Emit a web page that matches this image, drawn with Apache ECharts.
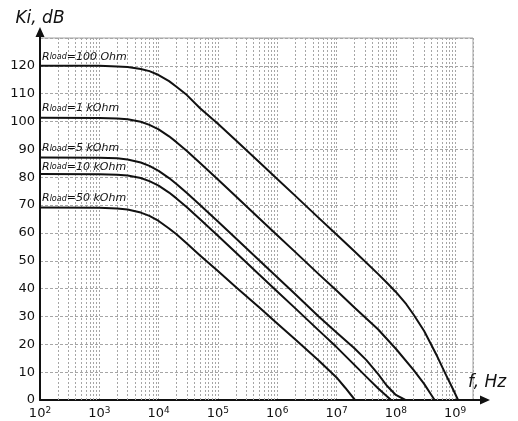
<!DOCTYPE html>
<html>
<head>
<meta charset="utf-8">
<script src="https://cdn.jsdelivr.net/npm/echarts@6/dist/echarts.min.js"></script>
<style>
  html, body { margin: 0; padding: 0; background: #fff; }
  #chart { width: 518px; height: 421px; }
</style>
</head>
<body>
<div id="chart"></div>
<script>
// ---- Data (frequency in Hz, gain Ki in dB) ----
const r100Ohm = [[100,120],[1000,120],[2000,119.8],[3000,119.6],[5000,118.9],[7000,118.1],[1e4,116.7],[1.5e4,114.5],[2e4,112.5],[3e4,109.5],[5e4,104.8],[1e5,99.2],[2e5,93.3],[5e5,85.4],[1e6,79.4],[2e6,73.4],[5e6,65.4],[1e7,59.4],[2e7,53.4],[5e7,45.3],[7e7,42.2],[1e8,38.8],[1.5e8,34.4],[2e8,30.6],[3e8,24.8],[5e8,15.6],[7e8,9.0],[9e8,4.3],[1.12e9,0]];
const r1kOhm  = [[100,101.4],[1000,101.3],[2000,101.1],[3000,100.8],[5000,99.9],[7000,98.8],[1e4,97.2],[1.5e4,94.7],[2e4,92.6],[3e4,89.4],[5e4,85.1],[1e5,79.2],[2e5,73.2],[5e5,65.2],[1e6,59.2],[2e6,53.2],[5e6,45.2],[1e7,39.3],[2e7,33.2],[5e7,25.4],[1e8,18.4],[2e8,10.7],[3e8,5.8],[3.8e8,2.4],[4.5e8,0]];
const r5kOhm  = [[100,87.1],[1000,87.0],[2000,86.8],[3000,86.4],[5000,85.3],[7000,84.1],[1e4,82.3],[1.5e4,79.7],[2e4,77.6],[3e4,74.3],[5e4,70.0],[1e5,64.1],[2e5,58.1],[5e5,50.1],[1e6,44.1],[2e6,38.1],[5e6,30.0],[1e7,24.2],[2e7,18.6],[3.16e7,14.4],[5e7,9.4],[7e7,5.2],[1e8,1.8],[1.45e8,0]];
const r10kOhm = [[100,81.2],[1000,81.1],[2000,80.9],[3000,80.6],[5000,79.7],[7000,78.6],[1e4,77.0],[1.5e4,74.5],[2e4,72.4],[3e4,69.2],[5e4,64.9],[1e5,59.0],[2e5,53.0],[5e5,45.0],[1e6,39.0],[2e6,33.0],[5e6,25.0],[1e7,19.0],[2e7,12.6],[3.16e7,8.4],[5e7,4.2],[8.3e7,0]];
const r50kOhm = [[100,69.1],[1000,69.0],[2000,68.8],[3000,68.4],[5000,67.3],[7000,66.1],[1e4,64.3],[1.5e4,61.6],[2e4,59.5],[3e4,56.2],[5e4,51.9],[1e5,46.3],[2e5,40.6],[5e5,33.2],[1e6,27.5],[2e6,21.8],[5e6,14.2],[1e7,8.1],[1.4e7,4.4],[2.05e7,0]];

const seriesValues = [r100Ohm, r1kOhm, r5kOhm, r10kOhm, r50kOhm];
const loadNames = ['=100 Ohm', '=1 kOhm', '=5 kOhm', '=10 kOhm', '=50 kOhm'];
const labelOffsets = [-9, -9, -9, -7, -9];

const xMin = 1e2, xMax = 2e9;
const yMin = 0, yMax = 130, yStep = 10, yLabelTop = 120;
const decadeExponents = [2, 3, 4, 5, 6, 7, 8];
const minorMultipliers = [2, 3, 4, 5, 6, 7, 8, 9];

const minorFreqs = [];
decadeExponents.forEach(function (e) {
  minorMultipliers.forEach(function (m) { minorFreqs.push(m * Math.pow(10, e)); });
});

const FONT = 'DejaVu Sans';
const INK = '#111';
const GRID_C = '#a6a6a6';

const chart = echarts.init(document.getElementById('chart'), null, { renderer: 'canvas' });

const series = seriesValues.map(function (vals, idx) {
  const s = {
    type: 'line',
    name: 'Rload' + loadNames[idx],
    data: vals.map(function (p, i) {
      if (i === 0) {
        return {
          value: p,
          label: {
            show: true,
            position: 'right',
            distance: 0,
            offset: [2, labelOffsets[idx]],
            formatter: '{a|R}{b|load}{a|' + loadNames[idx] + '}',
            rich: {
              a: { fontFamily: FONT, fontStyle: 'italic', fontSize: 11, color: INK },
              b: { fontFamily: FONT, fontStyle: 'italic', fontSize: 8, color: INK }
            }
          }
        };
      }
      return p;
    }),
    showSymbol: true,
    symbol: 'circle',
    symbolSize: 0,
    smooth: false,
    clip: false,
    lineStyle: { color: INK, width: 2, join: 'round' },
    itemStyle: { color: INK },
    label: { show: false },
    emphasis: { disabled: true },
    z: 5
  };
  if (idx === 0) {
    s.markLine = {
      silent: true,
      symbol: 'none',
      animation: false,
      label: { show: false },
      lineStyle: { color: GRID_C, type: [2, 2], width: 1 },
      emphasis: { disabled: true },
      data: minorFreqs.map(function (f) { return { xAxis: f }; })
    };
  }
  return s;
});

const option = {
  animation: false,
  backgroundColor: '#fff',
  grid: { left: 40, right: 45, top: 38, bottom: 21, show: true, borderColor: '#a0a0a0', borderWidth: 1, containLabel: false },
  xAxis: {
    type: 'log',
    logBase: 10,
    min: xMin,
    max: xMax,
    name: 'f, Hz',
    nameLocation: 'end',
    nameGap: -5,
    nameTextStyle: { fontFamily: FONT, fontStyle: 'italic', fontSize: 17, color: INK, verticalAlign: 'bottom', padding: [0, 0, 9, 0] },
    axisLine: {
      show: true,
      onZero: false,
      lineStyle: { color: INK, width: 2 },
      symbol: ['none', 'path://M4.5,0 L9,10 L5.5,10 L5.5,34 L3.5,34 L3.5,10 L0,10 Z'],
      symbolSize: [9, 34],
      symbolOffset: [0, 0]
    },
    axisTick: { show: false },
    splitLine: { show: true, lineStyle: { color: GRID_C, type: [2, 2], width: 1 } },
    minorSplitLine: { show: false },
    axisLabel: {
      showMinLabel: true,
      showMaxLabel: true,
      hideOverlap: false,
      margin: 6,
      color: INK,
      formatter: function (v) {
        const e = Math.log10(v);
        const r = Math.round(e);
        if (Math.abs(e - r) > 1e-6) return '';
        return '{b|10}{s|' + r + '}';
      },
      rich: {
        b: { fontFamily: FONT, fontSize: 13, color: INK },
        s: { fontFamily: FONT, fontSize: 9, color: INK, padding: [0, 0, 7, 0] }
      }
    }
  },
  yAxis: {
    type: 'value',
    min: yMin,
    max: yMax,
    interval: yStep,
    name: 'Ki, dB',
    nameLocation: 'end',
    nameGap: 11,
    nameTextStyle: { fontFamily: FONT, fontStyle: 'italic', fontSize: 17, color: INK },
    axisLine: {
      show: true,
      onZero: false,
      lineStyle: { color: INK, width: 2 },
      symbol: ['none', 'path://M4.5,0 L9,10 L5.5,10 L5.5,22 L3.5,22 L3.5,10 L0,10 Z'],
      symbolSize: [9, 22],
      symbolOffset: [0, 0]
    },
    axisTick: { show: false },
    splitLine: { show: true, lineStyle: { color: GRID_C, type: [3, 2], width: 1 } },
    axisLabel: {
      margin: 5,
      color: INK,
      fontFamily: FONT,
      fontSize: 13,
      formatter: function (v) { return v > yLabelTop ? '' : String(v); }
    }
  },
  series: series
};

chart.setOption(option);
</script>
</body>
</html>
